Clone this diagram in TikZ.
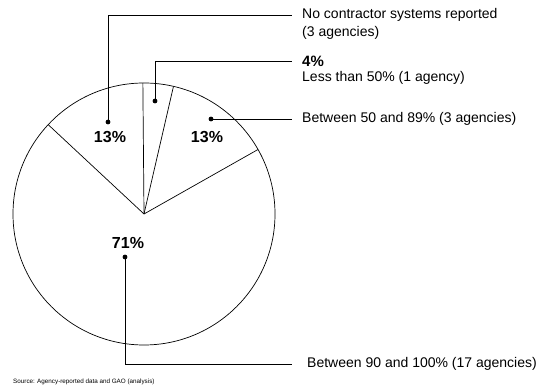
\documentclass[tikz,border=0pt]{standalone}
\usepackage{fontspec}
\setmainfont{Liberation Sans}
\usetikzlibrary{positioning}

\begin{document}
\begin{tikzpicture}[
x=1pt,
y=1pt,
legend/.style={
anchor=west,
inner sep=0pt,
font=\fontsize{14}{16}\selectfont
},
pct/.style={
inner sep=0pt,
font=\bfseries\fontsize{16}{18}\selectfont
},
leader/.style={
draw=black,
line width=0.6pt
},
dot/.style={
circle,
fill=black,
inner sep=0pt,
minimum size=4.8pt
}
]

\useasboundingbox (0,0) rectangle (537,387);

\coordinate (ctr) at (144,173);
\draw[line width=0.7pt] (ctr) circle (131pt);
\foreach \a in {29.5,77,90.5,137}
\draw[line width=0.7pt] (ctr) -- ++(\a:131pt);

\node[pct] (pnone) at (110,250) {13\%};
\node[pct] (pmid) at (207,250) {13\%};
\node[pct] (phigh) at (128,144) {71\%};

\node[dot] (dnone) at (108,265) {};
\node[dot] (dlow) at (155,286) {};
\node[dot] (dmid) at (211,268) {};
\node[dot] (dhigh) at (125,130) {};

\node[legend] (lnone) at (302,372) {No contractor systems reported};
\node[legend] (lnone2) at (302,354) {(3 agencies)};

\node[legend, font=\bfseries\fontsize{15}{18}\selectfont] (llow) at (302,326) {4\%};
\node[legend] (llow2) at (302,309) {Less than 50\% (1 agency)};

\node[legend] (lmid) at (302,268) {Between 50 and 89\% (3 agencies)};

\node[legend] (lhigh) at (307,23) {Between 90 and 100\% (17 agencies)};

\draw[leader] (dnone.center) |- ([xshift=-10pt]lnone.west);
\draw[leader] (dlow.center) |- ([xshift=-10pt]llow.west);
\draw[leader] (dmid.center) -- ([xshift=-10pt]lmid.west);
\draw[leader] (dhigh.center) |- ([xshift=-15pt]lhigh.west);

\node[anchor=west, inner sep=0pt, font=\fontsize{6.3}{8}\selectfont] (src) at (13,5)
{Source: Agency-reported data and GAO (analysis)};

\end{tikzpicture}
\end{document}
